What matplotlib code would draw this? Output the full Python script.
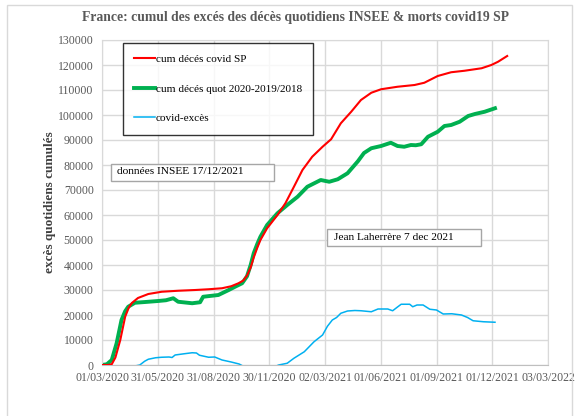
import matplotlib
matplotlib.use("Agg")
import matplotlib.pyplot as plt
from matplotlib.patches import Rectangle

plt.rcParams['font.family'] = ['Liberation Serif', 'DejaVu Serif']

# jours depuis le 01/03/2020
red_days = [0, 10, 16, 22, 30, 38, 44, 49, 59, 76, 98, 125, 153, 175, 197, 212, 224, 232, 238, 244,
            249, 255, 260, 271, 288, 301, 315, 329, 345, 362, 376, 392, 409, 425, 442, 458, 485,
            513, 529, 551, 573, 595, 623, 639, 650, 665]
red_vals = [0, 0, 300, 3000, 10000, 19300, 23000, 24800, 26800, 28400, 29300, 29700, 30000,
            30300, 30700, 31500, 32700, 33800, 35800, 39000, 43000, 47000, 50000, 54700, 60000,
            64700, 71300, 78000, 83300, 87300, 90300, 96700, 101300, 106000, 108900, 110300,
            111300, 112000, 112900, 115600, 117100, 117700, 118700, 120000, 121300, 123600]

green_days = [0, 8, 16, 24, 32, 38, 43, 54, 71, 92, 105, 117, 125, 148, 161, 166, 191, 208, 220,
              230, 238, 244, 249, 255, 260, 271, 288, 304, 321, 337, 359, 373, 387, 403, 420, 430,
              442, 458, 474, 485, 496, 507, 515, 524, 535, 551, 562, 573, 587, 601, 612, 628, 645]
green_vals = [0, 300, 2000, 8700, 18000, 21500, 23300, 24900, 25200, 25600, 25900, 26700, 25300,
              24700, 25100, 27300, 28000, 30000, 31500, 32700, 35500, 40000, 44700, 48500, 51300,
              56000, 60700, 64000, 67300, 71300, 74000, 73300, 74300, 76700, 81500, 84800, 86700,
              87600, 88900, 87600, 87300, 88000, 87900, 88300, 91300, 93300, 95600, 96000, 97300,
              99600, 100400, 101300, 102700]

blue_days = [0, 12, 18, 40, 56, 62, 70, 76, 88, 98, 110, 115, 120, 135, 148, 155, 160, 175, 185,
             197, 212, 225, 232, 260, 285, 290, 304, 315, 332, 348, 362, 370, 378, 385, 392, 403,
             415, 425, 442, 453, 469, 477, 485, 491, 505, 510, 517, 527, 538, 549, 560, 574, 590,
             600, 609, 626, 645]
blue_vals = [0, 0, -2000, -4000, -300, 0, 1500, 2300, 2900, 3100, 3200, 3000, 4000, 4500, 4900,
             4800, 3900, 3100, 3200, 2000, 1200, 400, -500, -2000, -500, 0, 700, 2700, 5300, 9300,
             12000, 15500, 18000, 19000, 20700, 21600, 21800, 21700, 21300, 22400, 22400, 21700,
             23200, 24300, 24300, 23300, 24000, 24000, 22300, 22000, 20400, 20500, 20000, 19000,
             17700, 17300, 17100]

tick_days = [0, 91.5, 183, 274.5, 366, 457.5, 549, 640.5, 732]
tick_labels = ['01/03/2020', '31/05/2020', '31/08/2020', '30/11/2020', '02/03/2021',
               '01/06/2021', '01/09/2021', '01/12/2021', '03/03/2022']

fig = plt.figure(figsize=(5.8, 4.16), dpi=100)
fig.patches.append(Rectangle((7 / 580, -0.01), 565 / 580, 1 - 5 / 416 + 0.01,
                             transform=fig.transFigure, fill=False, edgecolor='#D9D9D9', lw=1))

ax = fig.add_axes([102 / 580, 51 / 416, 446 / 580, 325 / 416])
ax.plot(red_days, red_vals, color='#FF0000', lw=1.5, label='cum décés covid SP', zorder=3)
ax.plot(green_days, green_vals, color='#00B050', lw=2.8, label='cum décés quot 2020-2019/2018', zorder=2)
ax.plot(blue_days, blue_vals, color='#00B0F0', lw=1.1, label='covid-excès', zorder=2)

ax.set_xlim(0, 732)
ax.set_ylim(0, 130000)
ax.set_yticks(range(0, 130001, 10000))
ax.set_xticks(tick_days)
ax.set_xticklabels(tick_labels)
ax.grid(True, color='#D9D9D9', lw=1)
ax.set_axisbelow(True)
for s in ax.spines.values():
    s.set_color('#D9D9D9')
ax.spines['bottom'].set_color('#BFBFBF')
ax.tick_params(length=0, labelsize=8.5, labelcolor='#595959')
ax.tick_params(axis='x', pad=5)
ax.tick_params(axis='y', pad=6)

fig.text(295 / 580, 1 - 18 / 416, 'France: cumul des excés des décès quotidiens INSEE & morts covid19 SP',
         ha='center', va='center', fontsize=9.8, fontweight='bold', color='#595959')
fig.text(50 / 580, 1 - 202 / 416, 'excès quotidiens cumulés', rotation=90, ha='center', va='center',
         fontsize=9.5, fontweight='bold', color='#404040')

leg = ax.legend(loc='upper left', bbox_to_anchor=(123 / 580, 1 - 43 / 416), bbox_transform=fig.transFigure,
                frameon=True, fancybox=False, edgecolor='black', fontsize=8.1, borderpad=1.0,
                labelspacing=1.75, handlelength=1.8, handletextpad=0.1, borderaxespad=0)
leg.get_frame().set_linewidth(1)
leg.set_zorder(5)

fig.patches.append(Rectangle((111 / 580, 1 - 181 / 416), 163 / 580, 17 / 416, transform=fig.transFigure,
                             facecolor='white', edgecolor='#A6A6A6', lw=1, zorder=4))
fig.text(117 / 580, 1 - 172 / 416, 'données INSEE 17/12/2021', ha='left', va='center', fontsize=8.2, zorder=5)
fig.patches.append(Rectangle((327 / 580, 1 - 246 / 416), 154 / 580, 17 / 416, transform=fig.transFigure,
                             facecolor='white', edgecolor='#A6A6A6', lw=1, zorder=4))
fig.text(334 / 580, 1 - 237.5 / 416, 'Jean Laherrère 7 dec 2021', ha='left', va='center', fontsize=8.2, zorder=5)

fig.savefig('out.png', dpi=100)
